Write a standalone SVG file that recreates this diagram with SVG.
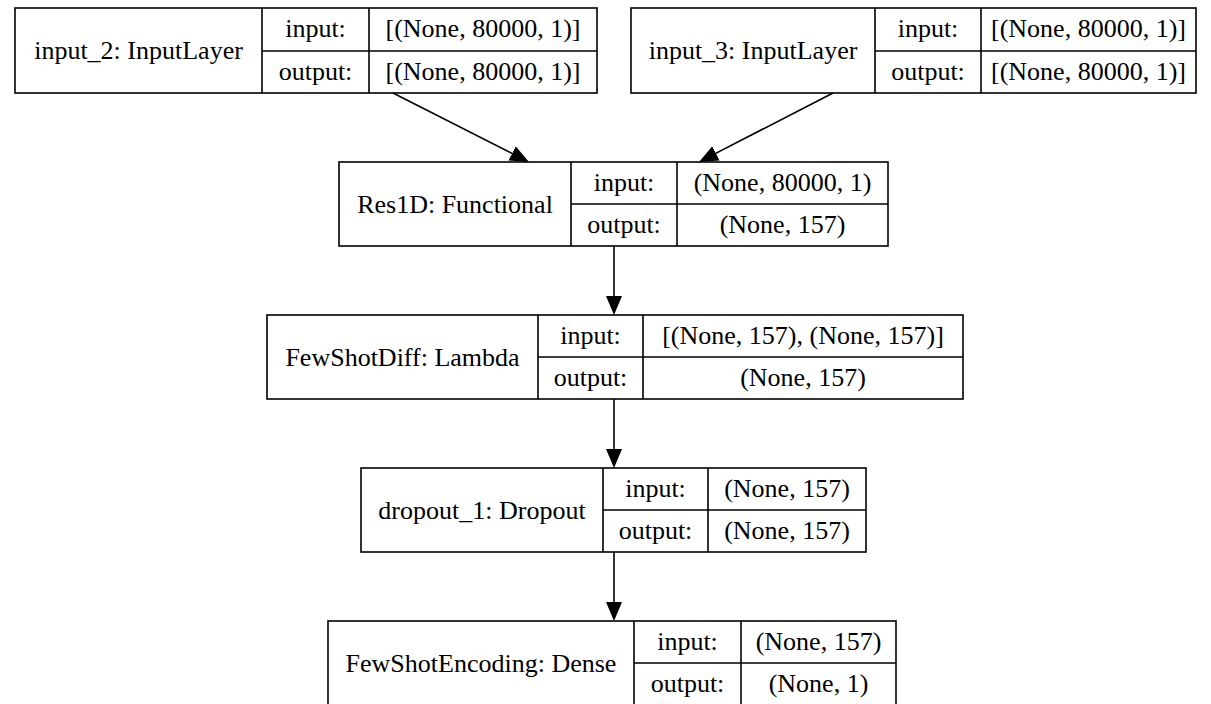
<svg xmlns="http://www.w3.org/2000/svg" width="1211" height="704" viewBox="0 0 1211 704" font-family="'Liberation Serif', 'DejaVu Serif', serif" font-size="26">
<style>
.box{fill:#fff;stroke:#000;stroke-width:1.6}
.ln{stroke:#000;stroke-width:1.6;fill:none}
.t{font-family:'Liberation Serif','DejaVu Serif',serif;font-size:26px;fill:#000;text-anchor:middle}
.edge{stroke:#000;stroke-width:1.6;fill:none;marker-end:url(#ah)}
</style>
<defs>
<marker id="ah" markerWidth="20" markerHeight="18" refX="9" refY="9" orient="auto" markerUnits="userSpaceOnUse" viewBox="0 0 20 18">
<path d="M0,1 L19,9 L0,17 z" fill="#000"/>
</marker>
</defs>
<rect width="1211" height="704" fill="#fff"/>

<g id="input_2">
<rect class="box" x="15" y="8" width="582" height="85"/>
<path class="ln" d="M262,8 V93 M369,8 V93 M262,51 H597"/>
<text class="t" x="138.5" y="59">input_2: InputLayer</text>
<text class="t" x="315.5" y="37">input:</text>
<text class="t" x="315.5" y="80">output:</text>
<text class="t" x="483" y="37">[(None, 80000, 1)]</text>
<text class="t" x="483" y="80">[(None, 80000, 1)]</text>
</g>

<g id="input_3">
<rect class="box" x="631" y="8" width="565" height="85"/>
<path class="ln" d="M875,8 V93 M981,8 V93 M875,51 H1196"/>
<text class="t" x="753" y="59">input_3: InputLayer</text>
<text class="t" x="928" y="37">input:</text>
<text class="t" x="928" y="80">output:</text>
<text class="t" x="1088.5" y="37">[(None, 80000, 1)]</text>
<text class="t" x="1088.5" y="80">[(None, 80000, 1)]</text>
</g>

<g id="res1d">
<rect class="box" x="339" y="162" width="549" height="84"/>
<path class="ln" d="M571,162 V246 M677,162 V246 M571,204 H888"/>
<text class="t" x="455" y="212.5">Res1D: Functional</text>
<text class="t" x="624" y="190.5">input:</text>
<text class="t" x="624" y="232.5">output:</text>
<text class="t" x="782.5" y="190.5">(None, 80000, 1)</text>
<text class="t" x="782.5" y="232.5">(None, 157)</text>
</g>

<g id="fewshotdiff">
<rect class="box" x="267" y="315" width="696" height="84"/>
<path class="ln" d="M538,315 V399 M643,315 V399 M538,357 H963"/>
<text class="t" x="402.5" y="365.5">FewShotDiff: Lambda</text>
<text class="t" x="590.5" y="343.5">input:</text>
<text class="t" x="590.5" y="385.5">output:</text>
<text class="t" x="803" y="343.5">[(None, 157), (None, 157)]</text>
<text class="t" x="803" y="385.5">(None, 157)</text>
</g>

<g id="dropout_1">
<rect class="box" x="361" y="468" width="505" height="84"/>
<path class="ln" d="M603,468 V552 M708,468 V552 M603,510 H866"/>
<text class="t" x="482" y="518.5">dropout_1: Dropout</text>
<text class="t" x="655.5" y="496.5">input:</text>
<text class="t" x="655.5" y="538.5">output:</text>
<text class="t" x="787" y="496.5">(None, 157)</text>
<text class="t" x="787" y="538.5">(None, 157)</text>
</g>

<g id="fewshotencoding">
<rect class="box" x="328" y="621" width="568" height="84"/>
<path class="ln" d="M634,621 V705 M741,621 V705 M634,663 H896"/>
<text class="t" x="481" y="671.5">FewShotEncoding: Dense</text>
<text class="t" x="687.5" y="649.5">input:</text>
<text class="t" x="687.5" y="691.5">output:</text>
<text class="t" x="818.5" y="649.5">(None, 157)</text>
<text class="t" x="818.5" y="691.5">(None, 1)</text>
</g>

<g id="connectors">
<path class="edge" d="M393,93 L520.1,157.5"/>
<path class="edge" d="M833,93 L707.9,157.4"/>
<path class="edge" d="M614,246 V305"/>
<path class="edge" d="M614,399 V458"/>
<path class="edge" d="M614,552 V611"/>
</g>
</svg>
